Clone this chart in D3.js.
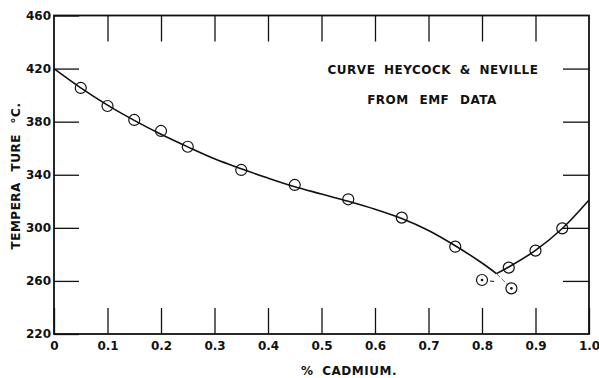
<!DOCTYPE html>
<html lang="en">
<head>
<meta charset="UTF-8">
<title>Zn-Cd liquidus</title>
<script src="https://cdn.jsdelivr.net/npm/d3@7/dist/d3.min.js"></script>
<style>
    body { margin: 0; background: #fff; }
    text { font-family: "DejaVu Sans", sans-serif; fill: #111; }
    .tick text { font-size: 12px; font-weight: bold; }
    .lbl { font-size: 12px; font-weight: bold; letter-spacing: 0.5px; }
</style>
</head>
<body>
<div id="chart"></div>
<script>
    // measured points (circles)
    const cadmium = [0.05, 0.10, 0.15, 0.20, 0.25, 0.35, 0.45, 0.55, 0.65, 0.75, 0.85, 0.90, 0.95];
    const temps   = [405.4, 391.8, 381.3, 373.0, 361.1, 343.6, 332.3, 321.5, 307.7, 285.8, 270.0, 282.8, 299.6];

    // stray points below the eutectic (circle with dot)
    const offCadmium = [0.80, 0.855];
    const offTemps   = [260.7, 254.4];

    // Heycock & Neville curve, zinc-rich branch and cadmium-rich branch
    const leftX = [0, 0.05, 0.10, 0.15, 0.20, 0.25, 0.30, 0.35, 0.40, 0.45, 0.50, 0.55, 0.60, 0.65, 0.70, 0.75, 0.80, 0.827];
    const leftT = [420, 405.5, 392.5, 381, 370.5, 361, 352, 344.5, 337.5, 331, 325.5, 320, 314, 307, 298, 286.5, 273.5, 265.5];
    const rightX = [0.827, 0.85, 0.90, 0.95, 1.0];
    const rightT = [265.5, 270.5, 283, 299.5, 321];

    const xTicks = [0, 0.1, 0.2, 0.3, 0.4, 0.5, 0.6, 0.7, 0.8, 0.9, 1.0];
    const yTicks = [220, 260, 300, 340, 380, 420, 460];

    const width = 599, height = 378;
    const m = { left: 54, right: 10, top: 15.5, bottom: 44 };

    const x = d3.scaleLinear().domain([0, 1]).range([m.left, width - m.right]);
    const y = d3.scaleLinear().domain([220, 460]).range([height - m.bottom, m.top]);

    const svg = d3.select('#chart').append('svg')
        .attr('width', width).attr('height', height);

    // frame
    svg.append('rect')
        .attr('x', x(0)).attr('y', y(460))
        .attr('width', x(1) - x(0)).attr('height', y(220) - y(460))
        .attr('fill', 'none').attr('stroke', '#111').attr('stroke-width', 1.8);

    const fmtX = d => d === 0 ? '0' : d3.format('.1f')(d);

    // bottom ticks + labels
    svg.append('g')
        .attr('transform', `translate(0,${y(220)})`)
        .call(d3.axisBottom(x).tickValues(xTicks).tickFormat(fmtX).tickSizeInner(-26).tickSizeOuter(0).tickPadding(7))
        .call(g => g.select('.domain').remove());

    // left ticks + labels
    svg.append('g')
        .attr('transform', `translate(${x(0)},0)`)
        .call(d3.axisLeft(y).tickValues(yTicks).tickSizeInner(-25).tickSizeOuter(0).tickPadding(3))
        .call(g => g.select('.domain').remove());

    // top and right ticks, no labels
    svg.append('g')
        .attr('transform', `translate(0,${y(460)})`)
        .call(d3.axisTop(x).tickValues(xTicks.slice(1, -1)).tickFormat('').tickSizeInner(-26).tickSizeOuter(0))
        .call(g => g.select('.domain').remove());
    svg.append('g')
        .attr('transform', `translate(${x(1)},0)`)
        .call(d3.axisRight(y).tickValues(yTicks.slice(1, -1)).tickFormat('').tickSizeInner(-26).tickSizeOuter(0))
        .call(g => g.select('.domain').remove());

    svg.selectAll('.tick line').attr('stroke', '#111').attr('stroke-width', 1.3);
    svg.selectAll('.tick text').attr('fill', '#111');

    // curve
    const line = d3.line().x(d => x(d[0])).y(d => y(d[1])).curve(d3.curveCatmullRom);
    svg.append('path')
        .datum(d3.zip(leftX, leftT))
        .attr('d', line)
        .attr('fill', 'none').attr('stroke', '#111').attr('stroke-width', 1.6);
    svg.append('path')
        .datum(d3.zip(rightX, rightT))
        .attr('d', line)
        .attr('fill', 'none').attr('stroke', '#111').attr('stroke-width', 1.6);

    // thin dashed leaders to the stray points
    svg.append('line')
        .attr('x1', x(leftX[leftX.length - 1])).attr('y1', y(leftT[leftT.length - 1]))
        .attr('x2', x(offCadmium[1])).attr('y2', y(offTemps[1]))
        .attr('stroke', '#333').attr('stroke-width', 0.7).attr('stroke-dasharray', '5,2');
    svg.append('line')
        .attr('x1', x(offCadmium[0]) + 8).attr('y1', y(offTemps[0]) + 1)
        .attr('x2', x(offCadmium[0]) + 12).attr('y2', y(offTemps[0]) + 1.5)
        .attr('stroke', '#111').attr('stroke-width', 1.2);

    // measured points
    svg.append('g').selectAll('circle')
        .data(d3.zip(cadmium, temps))
        .join('circle')
        .attr('cx', d => x(d[0])).attr('cy', d => y(d[1])).attr('r', 5.5)
        .attr('fill', 'none').attr('stroke', '#111').attr('stroke-width', 1.2);

    const off = svg.append('g').selectAll('g')
        .data(d3.zip(offCadmium, offTemps))
        .join('g')
        .attr('transform', d => `translate(${x(d[0])},${y(d[1])})`);
    off.append('circle').attr('r', 5.5)
        .attr('fill', '#fff').attr('stroke', '#111').attr('stroke-width', 1.2);
    off.append('circle').attr('r', 1.3).attr('fill', '#111');

    // annotation
    svg.append('text').attr('class', 'lbl')
        .attr('x', 433).attr('y', 74).attr('text-anchor', 'middle')
        .attr('word-spacing', 4)
        .text('CURVE HEYCOCK & NEVILLE');
    svg.append('text').attr('class', 'lbl')
        .attr('x', 432).attr('y', 104).attr('text-anchor', 'middle')
        .attr('word-spacing', 6)
        .text('FROM EMF DATA');

    // axis titles
    svg.append('text').attr('class', 'lbl')
        .attr('x', 349).attr('y', 375).attr('text-anchor', 'middle')
        .attr('word-spacing', 4)
        .text('% CADMIUM.');
    svg.append('text').attr('class', 'lbl')
        .attr('transform', 'translate(20,176) rotate(-90)')
        .attr('text-anchor', 'middle')
        .attr('word-spacing', 6)
        .text('TEMPERA TURE °C.');
</script>
</body>
</html>
